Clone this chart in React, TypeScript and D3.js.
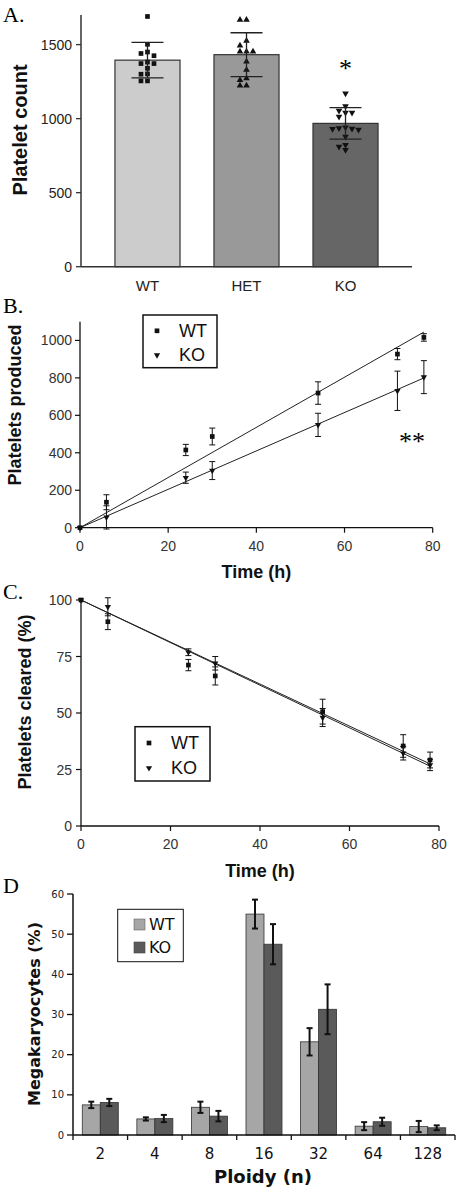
import React from "react";
import * as d3 from "d3";

// ---------- Panel A ----------
const groupsA = ["WT", "HET", "KO"];
const meanA = [1395, 1432, 968];
const sdA = [120, 148, 107];
const pointsWT_A = [1690, 1502, 1450, 1440, 1425, 1382, 1372, 1372, 1340, 1302, 1300, 1255, 1255];
const pointsHET_A = [1667, 1667, 1525, 1493, 1453, 1453, 1453, 1385, 1329, 1273, 1261, 1224, 1224];
const pointsKO_A = [1171, 1085, 1054, 1041, 1041, 1014, 940, 935, 932, 930, 925, 878, 822, 811, 788];
const ticksA = [0, 500, 1000, 1500];
const fillsA = ["#cccccc", "#999999", "#666666"];

// ---------- Panel B ----------
const timesB = [0, 6, 24, 30, 54, 72, 78];
const wtProd = [0, 136, 415, 487, 719, 927, 1016];
const wtProdErr = [0, 40, 30, 45, 60, 30, 20];
const koProd = [0, 55, 267, 305, 549, 731, 804];
const koProdErr = [0, 62, 30, 48, 62, 105, 88];
const ticksBy = [0, 200, 400, 600, 800, 1000];
const ticksTime = [0, 20, 40, 60, 80];

// ---------- Panel C ----------
const timesC = [0, 6, 24, 30, 54, 72, 78];
const wtClear = [100, 90.4, 71.2, 66.4, 50.6, 35.4, 29.2];
const wtClearErr = [0, 3.5, 2.5, 4, 5.5, 5, 3.5];
const koClear = [100, 97, 76.9, 72, 48, 32.2, 27];
const koClearErr = [0, 4, 1.5, 3, 4, 3, 2.5];
const ticksCy = [0, 25, 50, 75, 100];

// ---------- Panel D ----------
const ploidy = ["2", "4", "8", "16", "32", "64", "128"];
const wtMk = [7.5, 4.0, 6.9, 55.0, 23.2, 2.2, 2.1];
const wtMkErr = [0.8, 0.4, 1.4, 3.6, 3.4, 1.0, 1.4];
const koMk = [8.1, 4.1, 4.7, 47.5, 31.3, 3.3, 1.8];
const koMkErr = [0.9, 0.9, 1.3, 5.0, 6.2, 1.0, 0.6];
const ticksDy = [0, 10, 20, 30, 40, 50, 60];

const SANS = "'Liberation Sans', Arial, sans-serif";
const SERIF = "'Liberation Serif', 'Times New Roman', serif";
const VERD = "'DejaVu Sans', Verdana, sans-serif";

const sqPath = d3.symbol().type(d3.symbolSquare).size(22)()!;
const triPath = d3.symbol().type(d3.symbolTriangle).size(19)()!;
const sqSmall = d3.symbol().type(d3.symbolSquare).size(22)()!;
const triSmall = d3.symbol().type(d3.symbolTriangle).size(17)()!;

function swarm(values: number[], y: (v: number) => number, step: number) {
  const sorted = [...values].sort((a, b) => b - a);
  const placed: { dx: number; py: number }[] = [];
  const cands = [0, -1, 1, -2, 2, -3, 3, -4, 4];
  for (const v of sorted) {
    const py = y(v);
    let dx = 0;
    for (const c of cands) {
      const cx = c * step;
      if (!placed.some((p) => Math.abs(p.dx - cx) < step - 0.5 && Math.abs(p.py - py) < 5)) {
        dx = cx;
        break;
      }
    }
    placed.push({ dx, py });
  }
  return placed;
}

function slopeThrough(t: number[], v: number[], t0: number, v0: number) {
  let num = 0, den = 0;
  t.forEach((ti, i) => {
    num += (ti - t0) * (v[i] - v0);
    den += (ti - t0) * (ti - t0);
  });
  return num / den;
}

function PanelA() {
  const y = d3.scaleLinear().domain([0, 1700]).range([266.7, 15]);
  const x = d3.scaleBand().domain(groupsA).range([81, 412]).paddingInner(0.343).paddingOuter(0.343);
  const bw = x.bandwidth();
  const pts = [pointsWT_A, pointsHET_A, pointsKO_A];
  const syms = [sqPath, triPath, triPath];
  const rot = [0, 0, 180];
  return (
    <g>
      <text x={3} y={21.5} fontFamily={SERIF} fontSize={22}>A.</text>
      {groupsA.map((g, i) => {
        const x0 = x(g)!;
        const cx = x0 + bw / 2;
        const sw = swarm(pts[i], y, 6.5);
        return (
          <g key={g}>
            <rect x={x0} y={y(meanA[i])} width={bw} height={y(0) - y(meanA[i])} fill={fillsA[i]} stroke="#333" strokeWidth={1.2} />
            {sw.map((p, j) => (
              <path key={j} d={syms[i]} transform={`translate(${cx + p.dx},${p.py}) rotate(${rot[i]})`} fill="#111" />
            ))}
            <line x1={cx} x2={cx} y1={y(meanA[i] - sdA[i])} y2={y(meanA[i] + sdA[i])} stroke="#222" strokeWidth={1.3} />
            <line x1={cx - 16} x2={cx + 16} y1={y(meanA[i] + sdA[i])} y2={y(meanA[i] + sdA[i])} stroke="#222" strokeWidth={1.3} />
            <line x1={cx - 16} x2={cx + 16} y1={y(meanA[i] - sdA[i])} y2={y(meanA[i] - sdA[i])} stroke="#222" strokeWidth={1.3} />
            <text x={cx} y={291} textAnchor="middle" fontFamily={SANS} fontSize={15} fill="#222">{g}</text>
          </g>
        );
      })}
      <text x={x("KO")! + bw / 2} y={77} textAnchor="middle" fontFamily={SERIF} fontSize={26}>*</text>
      <line x1={81} x2={81} y1={15} y2={y(0)} stroke="#333" strokeWidth={1.5} />
      <line x1={81} x2={412} y1={y(0)} y2={y(0)} stroke="#333" strokeWidth={1.5} />
      {ticksA.map((t) => (
        <g key={t}>
          <line x1={76} x2={81} y1={y(t)} y2={y(t)} stroke="#333" strokeWidth={1.3} />
          <text x={72} y={y(t) + 5} textAnchor="end" fontFamily={SANS} fontSize={14} fill="#222">{t}</text>
        </g>
      ))}
      <text transform={`translate(27,130) rotate(-90)`} textAnchor="middle" fontFamily={SANS} fontWeight="bold" fontSize={20} fill="#111">Platelet count</text>
    </g>
  );
}

function ScatterPanel(props: {
  label: string; labelY: number;
  yDomain: [number, number]; yRange: [number, number];
  xRange: [number, number]; yTicks: number[];
  times: number[]; wt: number[]; wtErr: number[]; ko: number[]; koErr: number[];
  t0: number; v0: number; yLabel: string; yLabelX: number; yLabelY: number;
  timeLabelY: number; legend: [number, number, number, number];
}) {
  const p = props;
  const y = d3.scaleLinear().domain(p.yDomain).range(p.yRange);
  const x = d3.scaleLinear().domain([0, 80]).range(p.xRange);
  const y0 = y(0);
  const sWT = slopeThrough(p.times, p.wt, p.t0, p.v0);
  const sKO = slopeThrough(p.times, p.ko, p.t0, p.v0);
  const tEnd = d3.max(p.times)!;
  const line = (s: number) => ({ x1: x(p.t0), y1: y(p.v0), x2: x(tEnd), y2: y(p.v0 + s * (tEnd - p.t0)) });
  const lw = line(sWT), lk = line(sKO);
  const errs = (vals: number[], e: number[], k: string) =>
    p.times.map((t, i) => e[i] > 0 ? (
      <g key={k + i} stroke="#111" strokeWidth={1}>
        <line x1={x(t)} x2={x(t)} y1={y(vals[i] - e[i])} y2={y(vals[i] + e[i])} />
        <line x1={x(t) - 3} x2={x(t) + 3} y1={y(vals[i] - e[i])} y2={y(vals[i] - e[i])} />
        <line x1={x(t) - 3} x2={x(t) + 3} y1={y(vals[i] + e[i])} y2={y(vals[i] + e[i])} />
      </g>
    ) : null);
  const [lx, ly, lw2, lh] = p.legend;
  return (
    <g>
      <text x={3} y={p.labelY} fontFamily={SERIF} fontSize={22}>{p.label}</text>
      <line {...lw} stroke="#222" strokeWidth={1} />
      <line {...lk} stroke="#222" strokeWidth={1} />
      {errs(p.wt, p.wtErr, "w")}
      {errs(p.ko, p.koErr, "k")}
      {p.times.map((t, i) => (
        <path key={"ws" + i} d={sqSmall} transform={`translate(${x(t)},${y(p.wt[i])})`} fill="#111" />
      ))}
      {p.times.map((t, i) => (
        <path key={"ks" + i} d={triSmall} transform={`translate(${x(t)},${y(p.ko[i])}) rotate(180)`} fill="#111" />
      ))}
      <line x1={p.xRange[0]} x2={p.xRange[0]} y1={p.yRange[1]} y2={y0} stroke="#111" strokeWidth={1.3} />
      <line x1={p.xRange[0]} x2={p.xRange[1]} y1={y0} y2={y0} stroke="#111" strokeWidth={1.3} />
      {p.yTicks.map((t) => (
        <g key={"y" + t}>
          <line x1={p.xRange[0] - 5} x2={p.xRange[0]} y1={y(t)} y2={y(t)} stroke="#111" strokeWidth={1.2} />
          <text x={72} y={y(t) + 5} textAnchor="end" fontFamily={SANS} fontSize={14} fill="#333">{t}</text>
        </g>
      ))}
      {ticksTime.map((t) => (
        <g key={"x" + t}>
          <line x1={x(t)} x2={x(t)} y1={y0} y2={y0 + 5} stroke="#111" strokeWidth={1.2} />
          <text x={x(t)} y={y0 + 23} textAnchor="middle" fontFamily={SANS} fontSize={14} fill="#333">{t}</text>
        </g>
      ))}
      <text x={(p.xRange[0] + p.xRange[1]) / 2} y={p.timeLabelY} textAnchor="middle" fontFamily={SANS} fontWeight="bold" fontSize={18} fill="#111">Time (h)</text>
      <text transform={`translate(${p.yLabelX},${p.yLabelY}) rotate(-90)`} textAnchor="middle" fontFamily={SANS} fontWeight="bold" fontSize={18} fill="#111">{p.yLabel}</text>
      <rect x={lx} y={ly} width={lw2} height={lh} fill="white" stroke="#111" strokeWidth={1.5} />
      <path d={sqSmall} transform={`translate(${lx + 14},${ly + lh * 0.3})`} fill="#111" />
      <path d={triSmall} transform={`translate(${lx + 14},${ly + lh * 0.76}) rotate(180)`} fill="#111" />
      <text x={lx + 36} y={ly + lh * 0.3 + 6} fontFamily={SANS} fontSize={18} fill="#111">WT</text>
      <text x={lx + 36} y={ly + lh * 0.76 + 6} fontFamily={SANS} fontSize={18} fill="#111">KO</text>
    </g>
  );
}

function PanelD() {
  const y = d3.scaleLinear().domain([0, 60]).range([1135, 894]);
  const x = d3.scaleBand().domain(ploidy).range([73, 455]);
  const step = x.step();
  const sub = d3.scaleBand().domain(["WT", "KO"]).range([(step - 36) / 2, (step + 36) / 2]);
  const series = [
    { k: "WT", v: wtMk, e: wtMkErr, fill: "#a6a6a6" },
    { k: "KO", v: koMk, e: koMkErr, fill: "#5a5a5a" },
  ];
  const sbw = sub.bandwidth();
  return (
    <g>
      <text x={3} y={893} fontFamily={SERIF} fontSize={22}>D</text>
      {ploidy.map((c, i) => (
        <g key={c}>
          {series.map((s) => {
            const bx = x(c)! + sub(s.k)!;
            const cx = bx + sbw / 2;
            return (
              <g key={s.k}>
                <rect x={bx} y={y(s.v[i])} width={sbw} height={y(0) - y(s.v[i])} fill={s.fill} stroke="#333" strokeWidth={0.8} />
                <g stroke="#111" strokeWidth={2}>
                  <line x1={cx} x2={cx} y1={y(s.v[i] - s.e[i])} y2={y(s.v[i] + s.e[i])} />
                  <line x1={cx - 3} x2={cx + 3} y1={y(s.v[i] - s.e[i])} y2={y(s.v[i] - s.e[i])} />
                  <line x1={cx - 3} x2={cx + 3} y1={y(s.v[i] + s.e[i])} y2={y(s.v[i] + s.e[i])} />
                </g>
              </g>
            );
          })}
          <text x={x(c)! + step / 2} y={1159} textAnchor="middle" fontFamily={VERD} fontSize={15} fill="#111">{c}</text>
        </g>
      ))}
      <line x1={73} x2={73} y1={894} y2={1135} stroke="#111" strokeWidth={1.5} />
      <line x1={73} x2={455} y1={1135} y2={1135} stroke="#111" strokeWidth={1.5} />
      {[...ploidy.map((c) => x(c)!), 455].map((tx, i) => (
        <line key={"xt" + i} x1={tx} x2={tx} y1={1135} y2={1140} stroke="#111" strokeWidth={1.3} />
      ))}
      {ticksDy.map((t) => (
        <g key={t}>
          <line x1={67} x2={73} y1={y(t)} y2={y(t)} stroke="#111" strokeWidth={1.3} />
          <text x={64} y={y(t) + 3.5} textAnchor="end" fontFamily={VERD} fontSize={10} fill="#222">{t}</text>
        </g>
      ))}
      <text x={263} y={1183} textAnchor="middle" fontFamily={VERD} fontWeight="bold" fontSize={18} fill="#111">Ploidy (n)</text>
      <text transform={`translate(40,1014) rotate(-90)`} textAnchor="middle" fontFamily={VERD} fontWeight="bold" fontSize={16} fill="#111">Megakaryocytes (%)</text>
      <rect x={117.7} y={909.3} width={65.6} height={52.4} fill="white" stroke="#111" strokeWidth={1} />
      <rect x={134} y={919} width={11} height={11} fill="#a6a6a6" stroke="#666" strokeWidth={0.6} />
      <rect x={134} y={942} width={11} height={11} fill="#5a5a5a" stroke="#444" strokeWidth={0.6} />
      <text x={149} y={930} fontFamily={VERD} fontSize={16} fill="#111">WT</text>
      <text x={149} y={953} fontFamily={VERD} fontSize={16} fill="#111">KO</text>
    </g>
  );
}

export default function App() {
  return (
    <svg width={462} height={1195} style={{ position: "absolute", left: 0, top: 0, background: "white" }}>
      <rect width={462} height={1195} fill="white" />
      <PanelA />
      <ScatterPanel
        label="B." labelY={313}
        yDomain={[0, 1100]} yRange={[527.7, 321.7]} xRange={[80, 432.7]} yTicks={ticksBy}
        times={timesB} wt={wtProd} wtErr={wtProdErr} ko={koProd} koErr={koProdErr}
        t0={0} v0={0} yLabel="Platelets produced" yLabelX={21} yLabelY={405}
        timeLabelY={578} legend={[143, 315, 74, 52.7]}
      />
      <text x={412} y={449.5} textAnchor="middle" fontFamily={SERIF} fontSize={26}>**</text>
      <ScatterPanel
        label="C." labelY={599}
        yDomain={[0, 100]} yRange={[826, 600]} xRange={[81, 439]} yTicks={ticksCy}
        times={timesC} wt={wtClear} wtErr={wtClearErr} ko={koClear} koErr={koClearErr}
        t0={0} v0={100} yLabel="Platelets cleared (%)" yLabelX={31} yLabelY={702}
        timeLabelY={877} legend={[135, 726.7, 75, 54.3]}
      />
      <PanelD />
    </svg>
  );
}
